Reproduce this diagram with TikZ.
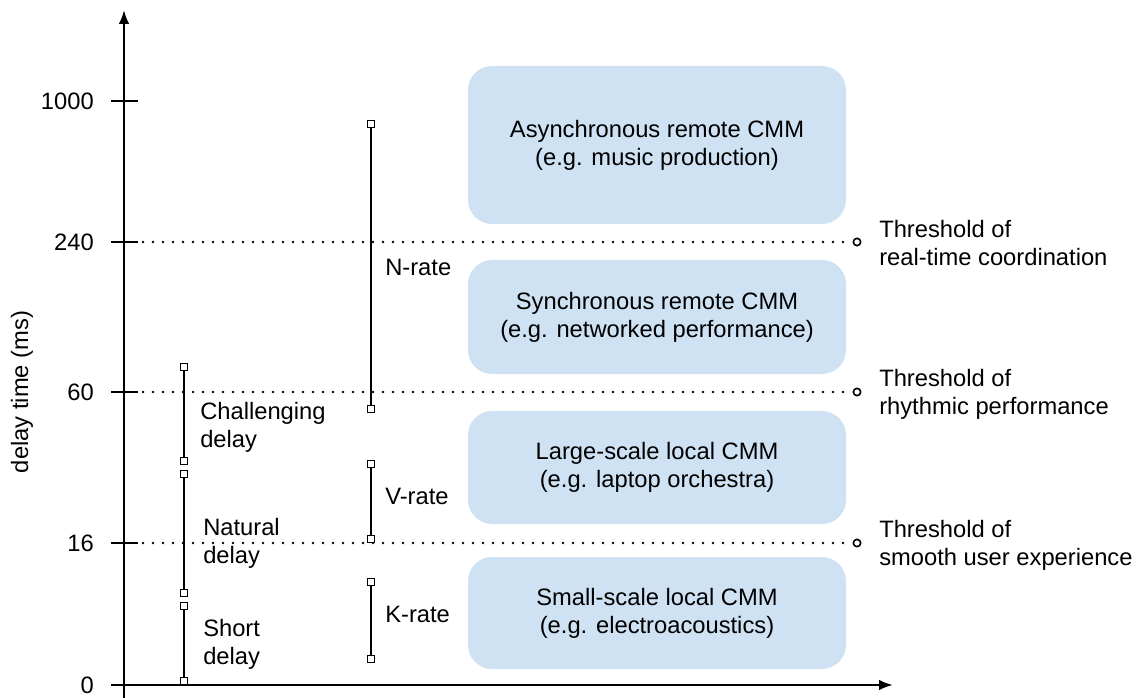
\documentclass[tikz,border=0pt]{standalone}
\usepackage{fontspec}
\setmainfont{Liberation Sans}
\usetikzlibrary{arrows.meta}
\definecolor{boxblue}{HTML}{CFE2F3}
\begin{document}
\begin{tikzpicture}[x=0.75pt,y=-0.75pt,
  every node/.style={font=\fontsize{17.8}{21}\selectfont},
  axisline/.style={line width=1.8pt,-{Latex[length=10.5pt,width=8pt]}},
  tickline/.style={line width=1.8pt},
  bar/.style={line width=1.8pt},
  endmark/.style={draw,fill=white,line width=1.2pt,minimum size=5.5pt,inner sep=0pt},
  threshline/.style={line width=2pt,dash pattern=on 0pt off 7.5pt,line cap=round},
  threshend/.style={circle,draw,fill=white,line width=1.2pt,minimum size=5.5pt,inner sep=0pt},
  zone/.style={fill=boxblue,rounded corners=18pt,minimum width=283.5pt,align=center,inner sep=0pt},
  lbl/.style={anchor=west,align=left,inner sep=0pt},
  ticklbl/.style={anchor=east,inner sep=0pt}]
\useasboundingbox (0,0) rectangle (1144,698);

% category boxes
\node[zone,minimum height=118.5pt] (async) at (657,145) {Asynchronous remote CMM\\(e.g. music production)};
\node[zone,minimum height=85.5pt] (sync) at (657,317) {Synchronous remote CMM\\(e.g. networked performance)};
\node[zone,minimum height=84.75pt] (large) at (657,467.5) {Large-scale local CMM\\(e.g. laptop orchestra)};
\node[zone,minimum height=84pt] (small) at (657,613) {Small-scale local CMM\\(e.g. electroacoustics)};

% threshold lines
\node[threshend] (e240) at (857,242) {};
\node[threshend] (e60) at (857,392) {};
\node[threshend] (e16) at (857,543) {};
\coordinate (s240) at (143,242);
\coordinate (s60) at (143,392);
\coordinate (s16) at (143,543);
\draw[threshline] (s240) -- (e240.west);
\draw[threshline] (s60) -- (e60.west);
\draw[threshline] (s16) -- (e16.west);
\node[lbl] (th240) at (879,243) {Threshold of\\real-time coordination};
\node[lbl] (th60) at (879,394) {Threshold of\\rhythmic performance};
\node[lbl] (th16) at (879,545) {Threshold of\\smooth user experience};

% axes
\coordinate (ybot) at (124,698);
\coordinate (ytop) at (124,10);
\coordinate (xleft) at (111,685);
\coordinate (xright) at (893,685);
\draw[axisline] (ybot) -- (ytop);
\draw[axisline] (xleft) -- (xright);
\foreach \y/\t in {101/1000,242/240,392/60,543/16}{
  \coordinate (tl\t) at (111,\y);
  \coordinate (tr\t) at (138,\y);
  \draw[tickline] (tl\t) -- (tr\t);
  \node[ticklbl] (t\t) at (94,\y) {\t};
}
\node[ticklbl] (t0) at (94,685) {0};
\node[rotate=90] (ylab) at (22,392) {delay time (ms)};

% delay ranges
\node[endmark] (ch1) at (184,367) {};
\node[endmark] (ch2) at (184,461) {};
\node[endmark] (na1) at (184,474) {};
\node[endmark] (na2) at (184,593) {};
\node[endmark] (sh1) at (184,606) {};
\node[endmark] (sh2) at (184,681) {};
\draw[bar] (ch1) -- (ch2);
\draw[bar] (na1) -- (na2);
\draw[bar] (sh1) -- (sh2);
\node[lbl] (chl) at (200,427) {Challenging\\delay};
\node[lbl] (nal) at (203,543) {Natural\\delay};
\node[lbl] (shl) at (203,644) {Short\\delay};

% processing rates
\node[endmark] (n1) at (371,124) {};
\node[endmark] (n2) at (371,409) {};
\node[endmark] (v1) at (371,464) {};
\node[endmark] (v2) at (371,539) {};
\node[endmark] (k1) at (371,582) {};
\node[endmark] (k2) at (371,659) {};
\draw[bar] (n1) -- (n2);
\draw[bar] (v1) -- (v2);
\draw[bar] (k1) -- (k2);
\node[lbl] (nl) at (385,267) {N-rate};
\node[lbl] (vl) at (385,496) {V-rate};
\node[lbl] (kl) at (385,614) {K-rate};
\end{tikzpicture}
\end{document}
